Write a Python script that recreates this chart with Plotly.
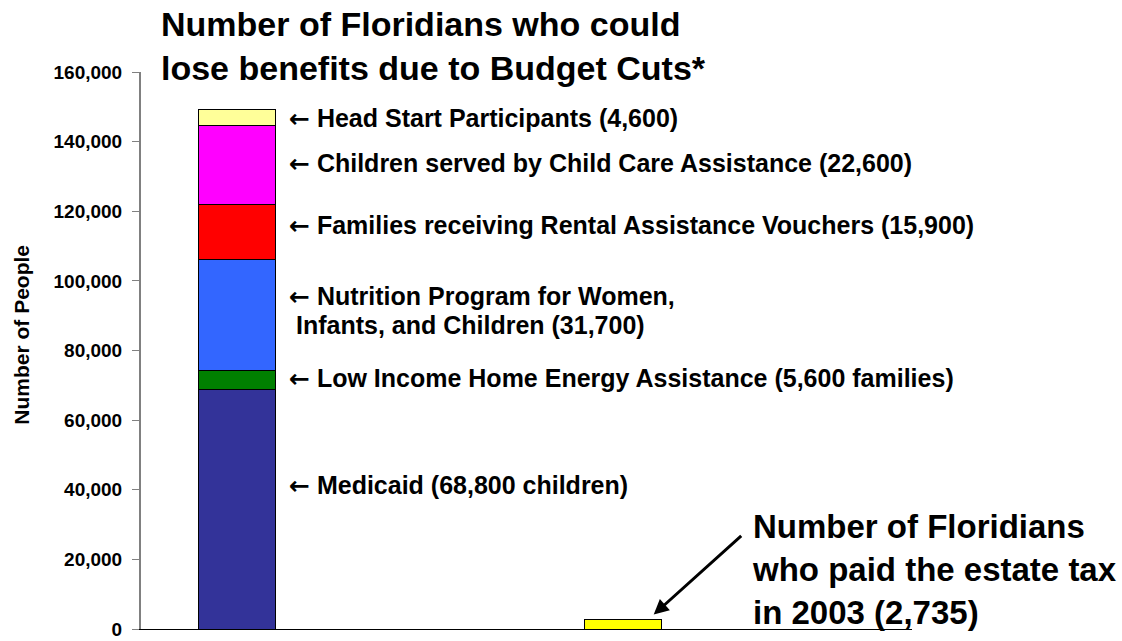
import plotly.graph_objects as go

# ---- data ----
programs = ["Medicaid", "Low Income Home Energy Assistance",
            "Nutrition Program for Women, Infants, and Children",
            "Rental Assistance Vouchers", "Child Care Assistance", "Head Start"]
program_values = [68800, 5600, 31700, 15900, 22600, 4600]
program_colors = ["#333399", "#008000", "#3366FF", "#FF0000", "#FF00FF", "#FFFF99"]
label_texts = ["Medicaid (68,800 children)",
               "Low Income Home Energy Assistance (5,600 families)",
               "Nutrition Program for Women,",
               "Families receiving Rental Assistance Vouchers (15,900)",
               "Children served by Child Care Assistance (22,600)",
               "Head Start Participants (4,600)"]
estate_tax_payers = 2735
tick_vals = [0, 20000, 40000, 60000, 80000, 100000, 120000, 140000, 160000]
tick_text = ["0", "20,000", "40,000", "60,000", "80,000", "100,000", "120,000", "140,000", "160,000"]

# label vertical positions (data units)
label_y = [41300, 72000, 95500, 115800, 133800, 146600]
wic_second_line = "Infants, and Children (31,700)"
wic_second_y = 87300

FONT = "Liberation Sans, Arial, sans-serif"
ARROW = "<span style='font-family:DejaVu Sans'>\u2190</span> "

fig = go.Figure()
for name, val, col in zip(programs, program_values, program_colors):
    fig.add_trace(go.Bar(x=[0], y=[val], name=name, width=0.2,
                         marker=dict(color=col, line=dict(color="black", width=1))))
fig.add_trace(go.Bar(x=[1], y=[estate_tax_payers], name="Estate tax", width=0.2,
                     marker=dict(color="#FFFF00", line=dict(color="black", width=1))))

annotations = []
for txt, yy in zip(label_texts, label_y):
    annotations.append(dict(x=0.13, y=yy, xref="x", yref="y", text=ARROW + txt,
                            showarrow=False, xanchor="left", yanchor="middle",
                            font=dict(family=FONT, size=25, color="black", weight="bold")))
annotations.append(dict(x=0.13, y=wic_second_y, xref="x", yref="y", text="\u00a0" + wic_second_line,
                        showarrow=False, xanchor="left", yanchor="middle",
                        font=dict(family=FONT, size=25, color="black", weight="bold")))
# estate tax callout arrow
annotations.append(dict(x=1.08, y=estate_tax_payers + 1400, xref="x", yref="y",
                        ax=89, ay=-80, text="", showarrow=True,
                        arrowhead=2, arrowsize=1, arrowwidth=3, arrowcolor="black"))
annotations.append(dict(x=(748 - 141) / 769, y=(629 - 569) / 557, xref="paper", yref="paper",
                        text="Number of Floridians<br>who paid the estate tax<br>in 2003 (2,735)",
                        showarrow=False, xanchor="left", yanchor="middle", align="left",
                        font=dict(family=FONT, size=33, color="black", weight="bold")))
annotations.append(dict(x=(21 - 141) / 769, y=(629 - 335) / 557, xref="paper", yref="paper",
                        text="Number of People", textangle=-90, showarrow=False,
                        xanchor="center", yanchor="middle",
                        font=dict(family=FONT, size=21, color="black", weight="bold")))

fig.update_layout(
    barmode="stack",
    width=1122, height=641,
    margin=dict(l=141, r=210, t=72, b=12, pad=0, autoexpand=False),
    paper_bgcolor="white", plot_bgcolor="white",
    showlegend=False,
    title=dict(text="Number of Floridians who could<br>lose benefits due to Budget Cuts*",
               x=161 / 1122, xanchor="left", xref="container",
               y=1 - 36 / 641, yanchor="middle", yref="container",
               font=dict(family=FONT, size=34, color="black", weight="bold")),
    annotations=annotations,
    xaxis=dict(range=[-0.248, 1.749], showticklabels=False, showgrid=False, automargin=False,
               zeroline=False, showline=True, linecolor="black", linewidth=1, ticks=""),
    yaxis=dict(range=[0, 160000], tickvals=tick_vals, ticktext=tick_text, automargin=False,
               showgrid=False, zeroline=False, showline=True, linecolor="#808080",
               linewidth=2, ticks="outside", ticklen=7, tickcolor="#808080", tickwidth=1,
               ticklabelstandoff=6, ticklabeloverflow="allow",
               tickfont=dict(family=FONT, size=19, color="black", weight="bold")),
)

fig.write_html("out.html", config={"displayModeBar": False},
               post_script="document.body.style.margin='0';document.body.style.overflow='hidden';")
